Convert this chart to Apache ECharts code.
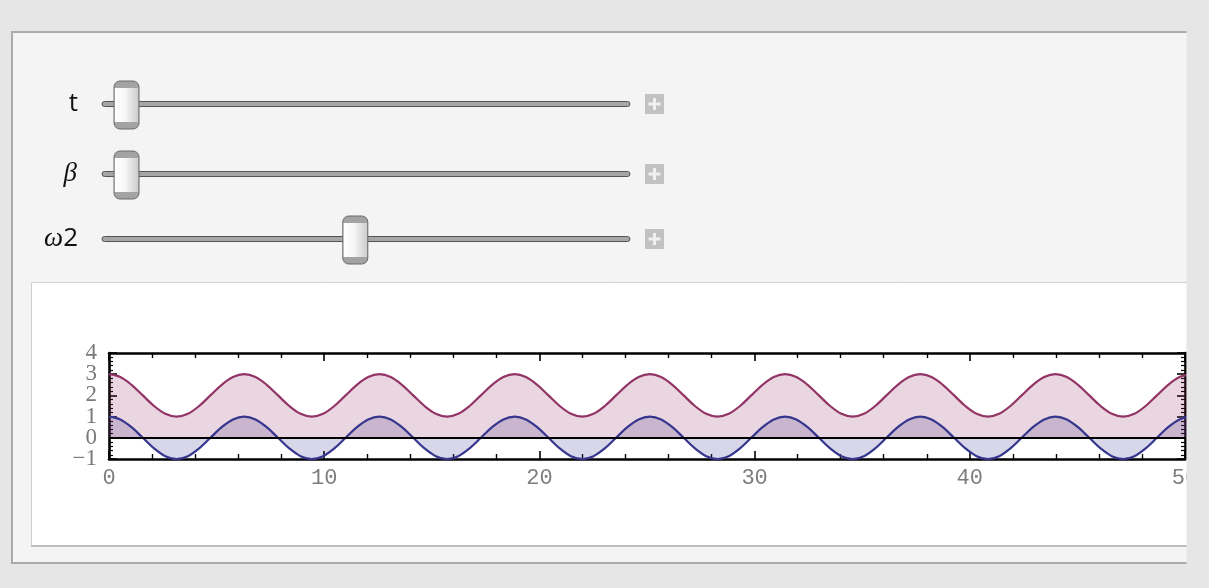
<!DOCTYPE html>
<html>
<head>
<meta charset="utf-8">
<script src="https://cdn.jsdelivr.net/npm/echarts@6/dist/echarts.min.js"></script>
<style>
html,body{margin:0;padding:0;background:#e6e6e6;}
#chart{width:1209px;height:588px;}
</style>
</head>
<body>
<div id="chart"></div>
<script>
// ---- data ----
const xs = [0,0.524,1.047,1.571,2.094,2.618,3.142,3.665,4.189,4.712,5.236,5.760,
6.283,6.807,7.330,7.854,8.378,8.901,9.425,9.948,10.472,10.996,11.519,12.043,
12.566,13.090,13.614,14.137,14.661,15.184,15.708,16.232,16.755,17.279,17.802,18.326,
18.850,19.373,19.897,20.420,20.944,21.468,21.991,22.515,23.038,23.562,24.086,24.609,
25.133,25.656,26.180,26.704,27.227,27.751,28.274,28.798,29.322,29.845,30.369,30.892,
31.416,31.940,32.463,32.987,33.510,34.034,34.558,35.081,35.605,36.128,36.652,37.176,
37.699,38.223,38.746,39.270,39.794,40.317,40.841,41.364,41.888,42.412,42.935,43.459,
43.982,44.506,45.029,45.553,46.077,46.600,47.124,47.647,48.171,48.695,49.218,49.742,
50.265];
const lowerWave = [1,0.866,0.5,0,-0.5,-0.866,-1,-0.866,-0.5,0,0.5,0.866,
1,0.866,0.5,0,-0.5,-0.866,-1,-0.866,-0.5,0,0.5,0.866,
1,0.866,0.5,0,-0.5,-0.866,-1,-0.866,-0.5,0,0.5,0.866,
1,0.866,0.5,0,-0.5,-0.866,-1,-0.866,-0.5,0,0.5,0.866,
1,0.866,0.5,0,-0.5,-0.866,-1,-0.866,-0.5,0,0.5,0.866,
1,0.866,0.5,0,-0.5,-0.866,-1,-0.866,-0.5,0,0.5,0.866,
1,0.866,0.5,0,-0.5,-0.866,-1,-0.866,-0.5,0,0.5,0.866,
1,0.866,0.5,0,-0.5,-0.866,-1,-0.866,-0.5,0,0.5,0.866,
1];
const upperWave = [3,2.866,2.5,2,1.5,1.134,1,1.134,1.5,2,2.5,2.866,
3,2.866,2.5,2,1.5,1.134,1,1.134,1.5,2,2.5,2.866,
3,2.866,2.5,2,1.5,1.134,1,1.134,1.5,2,2.5,2.866,
3,2.866,2.5,2,1.5,1.134,1,1.134,1.5,2,2.5,2.866,
3,2.866,2.5,2,1.5,1.134,1,1.134,1.5,2,2.5,2.866,
3,2.866,2.5,2,1.5,1.134,1,1.134,1.5,2,2.5,2.866,
3,2.866,2.5,2,1.5,1.134,1,1.134,1.5,2,2.5,2.866,
3,2.866,2.5,2,1.5,1.134,1,1.134,1.5,2,2.5,2.866,
3];
const xTickLabels = ['0','10','20','30','40','50'];
const yTickValuesOdd = [-1, 1, 3];
const yTickValuesEven = [0, 2, 4];
const yTickLabels = ['\u22121','0','1','2','3','4'];
const sliderNames = ['t','β','ω2'];
const sliderValues = [0, 0, 0.466];

// ---- build ----
const chart = echarts.init(document.getElementById('chart'), null, {renderer:'canvas'});
const pairs = (ys) => xs.map((x,i)=>[x, ys[i]]);

const BLUE = '#36368f', MAG = '#933466';

const trackX0 = 102, trackX1 = 630, trackCY = [104, 174, 239];
const thumbW = 25, thumbH = 48, thumbMin = 114, thumbMax = 605;
const graphics = [];
graphics.push({type:'rect', z:-10, shape:{x:12,y:32,width:1176,height:531}, style:{fill:'#f4f4f4'}});
graphics.push({type:'polyline', z:-9, shape:{points:[[1188,32],[12,32],[12,563],[1188,563]]}, style:{stroke:'#ababab', lineWidth:2, fill:null}});
graphics.push({type:'rect', z:-8, shape:{x:31,y:282,width:1157,height:264}, style:{fill:'#ffffff'}});
graphics.push({type:'polyline', z:-7, shape:{points:[[1188,282.5],[31.5,282.5],[31.5,545]]}, style:{stroke:'#cfcfcf', lineWidth:1, fill:null}});
graphics.push({type:'line', z:-7, shape:{x1:31,y1:546,x2:1188,y2:546}, style:{stroke:'#bdbdbd', lineWidth:2}});

sliderNames.forEach((name, i) => {
  const cy = trackCY[i];
  graphics.push({type:'rect', z:1, shape:{x:trackX0, y:cy-2.5, width:trackX1-trackX0, height:5, r:2.5},
    style:{fill:'#a6a6a6', stroke:'#555555', lineWidth:1}});
  const tx = thumbMin + sliderValues[i]*(thumbMax-thumbMin);
  const ty = cy - thumbH/2 + 1;
  graphics.push({type:'rect', z:2, shape:{x:tx, y:ty, width:thumbW, height:thumbH, r:6},
    style:{fill:'#a3a3a3'}});
  graphics.push({type:'rect', z:3, shape:{x:tx+0.5, y:ty+7, width:thumbW-1, height:thumbH-14},
    style:{fill:new echarts.graphic.LinearGradient(0,0,1,0,[{offset:0,color:'#ffffff'},{offset:0.45,color:'#f6f6f6'},{offset:1,color:'#cccccc'}])}});
  graphics.push({type:'rect', z:4, shape:{x:tx, y:ty, width:thumbW, height:thumbH, r:6},
    style:{fill:null, stroke:'#6a6a6a', lineWidth:1}});
  graphics.push({type:'rect', z:1, shape:{x:645, y:cy-10, width:19, height:20}, style:{fill:'#c2c2c2'}});
  graphics.push({type:'rect', z:2, shape:{x:653, y:cy-6, width:3, height:12}, style:{fill:'#f0f0f0'}});
  graphics.push({type:'rect', z:2, shape:{x:648.5, y:cy-1.5, width:12, height:3}, style:{fill:'#f0f0f0'}});
});
graphics.push({type:'text', z:5, x:78, y:trackCY[0], style:{text:sliderNames[0], font:'26px "Open Sans"', fill:'#111', align:'right', verticalAlign:'middle'}});
graphics.push({type:'text', z:5, x:77, y:trackCY[1], style:{text:sliderNames[1], font:'italic 27px "Liberation Serif"', fill:'#111', align:'right', verticalAlign:'middle'}});
graphics.push({type:'text', z:5, x:78, y:trackCY[2], style:{
  text:'{i|ω}{n|2}', align:'right', verticalAlign:'middle',
  rich:{i:{font:'italic 27px "Liberation Serif"', fill:'#111'}, n:{font:'26px "Open Sans"', fill:'#111'}}}});
graphics.push({type:'rect', z:100, shape:{x:1186.5,y:0,width:30,height:588}, style:{fill:'#e6e6e6'}});

const frameLine = {show:true, onZero:false, lineStyle:{color:'#000', width:2.6}};
const xTickCommon = {
  type:'value', min:0, max:50, interval:10,
  splitLine:{show:false},
  axisLine: frameLine,
  axisTick:{show:true, inside:true, length:8, lineStyle:{color:'#000', width:1.6}},
  minorTick:{show:true, splitNumber:5, length:5, lineStyle:{color:'#000', width:1.4}},
};
const yTickCommon = {
  type:'value', min:-1, max:4, interval:1,
  splitLine:{show:false},
  axisLine: frameLine,
  axisTick:{show:true, inside:true, length:8, lineStyle:{color:'#000', width:1.6}},
  minorTick:{show:true, splitNumber:5, length:4, lineStyle:{color:'#000', width:1.2}},
};
const yLabelAxis = (vals) => ({
  type:'value', min:-1, max:4, interval:1, position:'left',
  splitLine:{show:false}, axisLine:{show:false}, axisTick:{show:false}, minorTick:{show:false},
  axisLabel:{show:true, margin:12, color:'#7a7a7a', fontFamily:'"Liberation Serif"', fontSize:23,
    customValues: vals, showMinLabel:true, showMaxLabel:true,
    formatter:(v)=>yTickLabels[Math.round(v)+1]}
});

chart.setOption({
  backgroundColor:'#e6e6e6',
  animation:false,
  graphic: graphics,
  grid:{left:109, top:353, right:24, bottom:129, containLabel:false},
  xAxis:[
    Object.assign({}, xTickCommon, {position:'bottom',
      axisLabel:{show:true, margin:8, color:'#7d7d7d', fontFamily:'"Liberation Mono"', fontSize:22,
        showMaxLabel:true, showMinLabel:true,
        formatter:(v)=>xTickLabels[Math.round(v/10)]}}),
    Object.assign({}, xTickCommon, {position:'top', axisLabel:{show:false}})
  ],
  yAxis:[
    Object.assign({}, yTickCommon, {position:'left', axisLabel:{show:false}}),
    Object.assign({}, yTickCommon, {position:'right', axisLabel:{show:false}}),
    yLabelAxis(yTickValuesOdd),
    yLabelAxis(yTickValuesEven)
  ],
  series:[
    {type:'line', name:'lower', data:pairs(lowerWave), xAxisIndex:0, yAxisIndex:0,
      smooth:0.35, showSymbol:false, clip:true,
      lineStyle:{color:BLUE, width:2.2}, itemStyle:{color:BLUE},
      areaStyle:{color:BLUE, opacity:0.2, origin:0},
      markLine:{silent:true, symbol:'none', label:{show:false},
        lineStyle:{color:'#000', width:2.2, type:'solid'}, data:[{yAxis:0}]}},
    {type:'line', name:'upper', data:pairs(upperWave), xAxisIndex:0, yAxisIndex:0,
      smooth:0.35, showSymbol:false, clip:true,
      lineStyle:{color:MAG, width:2.2}, itemStyle:{color:MAG},
      areaStyle:{color:MAG, opacity:0.2, origin:0}}
  ]
});
</script>
</body>
</html>
